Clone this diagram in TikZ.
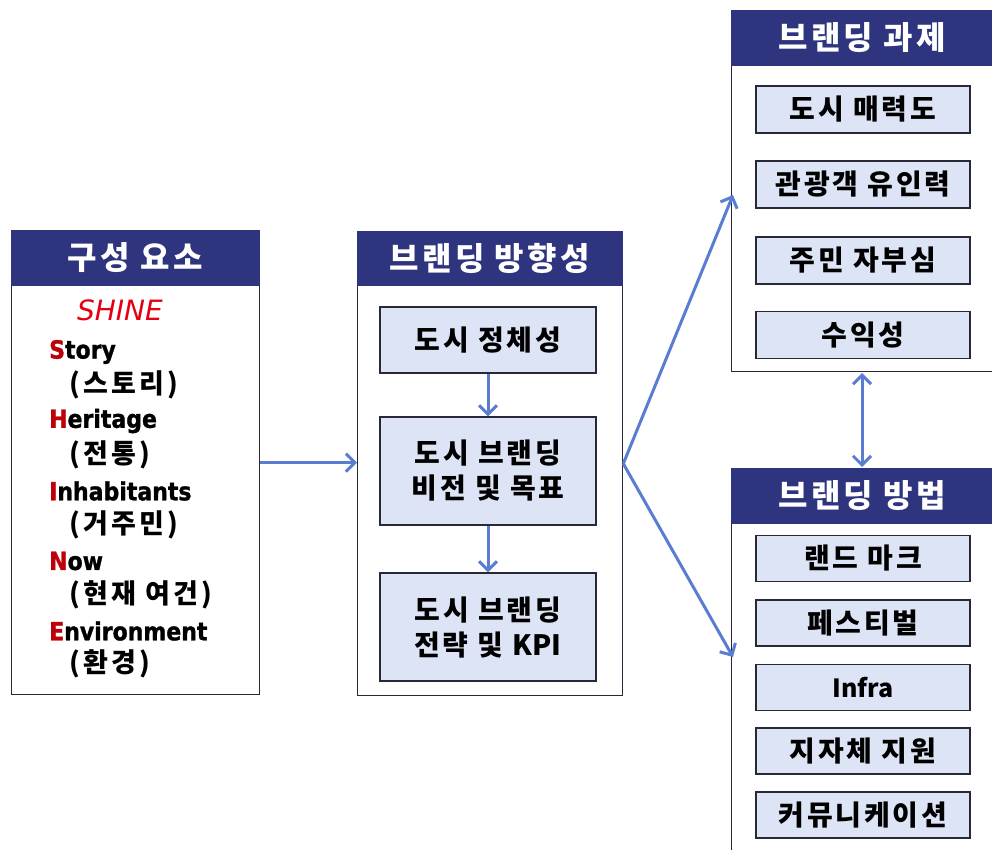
\documentclass[tikz,border=0pt]{standalone}
\usepackage{fontspec}
\setmainfont{Noto Sans CJK KR}[LetterSpace=10]
\newfontfamily\krplain{Noto Sans CJK KR}
\newfontfamily\kritem{Noto Sans CJK KR}[LetterSpace=12]
\newfontfamily\latfont{DejaVu Sans Bold}[FakeStretch=0.88,FakeBold=1.2]
\newfontfamily\shinefont{DejaVu Sans}
\usetikzlibrary{arrows.meta}
\definecolor{navy}{RGB}{46,52,126}
\definecolor{lav}{RGB}{221,228,246}
\definecolor{arrc}{RGB}{90,125,210}
\definecolor{dred}{RGB}{190,0,10}
\definecolor{shred}{RGB}{228,0,18}
\definecolor{edge}{RGB}{40,40,55}
\begin{document}
\begin{tikzpicture}[x=1pt,y=-1pt,
  outer/.style={draw=edge, line width=1.3pt, fill=white, inner sep=0pt, anchor=north west},
  hdr/.style={fill=navy, draw=navy, text=white, inner sep=0pt, anchor=north west,
    font=\bfseries\fontsize{32}{36}\selectfont},
  inbox/.style={fill=lav, draw=edge, line width=1.2pt, align=center, inner sep=0pt,
    font=\bfseries\fontsize{28}{35}\selectfont},
  item/.style={anchor=west, inner sep=0pt, font=\latfont\fontsize{25}{28}\selectfont},
  kitem/.style={anchor=west, inner sep=0pt, font=\kritem\bfseries\fontsize{27}{30}\selectfont},
  arr/.style={draw=arrc, line width=3pt, -{Straight Barb[length=9pt,width=18pt]}},
  darr/.style={draw=arrc, line width=3pt, {Straight Barb[length=9pt,width=18pt]}-{Straight Barb[length=9pt,width=18pt]}}
]
\useasboundingbox[fill=white] (0,0) rectangle (992,849);

% left box
\node[outer, minimum width=248pt, minimum height=464pt] (lbox) at (11,230) {};
\node[hdr, minimum width=248pt, minimum height=55pt] (lhdr) at (11,230) {구성 요소};
\node[inner sep=0pt, text=shred, font=\shinefont\itshape\fontsize{28}{32}\selectfont] (shine) at (120,310) {SHINE};
\node[item] (i1) at (49,352) {\textcolor{dred}{S}tory};
\node[kitem] (k1) at (69,385) {(스토리)};
\node[item] (i2) at (49,421) {\textcolor{dred}{H}eritage};
\node[kitem] (k2) at (69,455) {(전통)};
\node[item] (i3) at (49,491) {\textcolor{dred}{I}nhabitants};
\node[kitem] (k3) at (69,525) {(거주민)};
\node[item] (i4) at (49,561) {\textcolor{dred}{N}ow};
\node[kitem] (k4) at (69,595) {(현재 여건)};
\node[item] (i5) at (49,631) {\textcolor{dred}{E}nvironment};
\node[kitem] (k5) at (69,664) {(환경)};

% middle box
\node[outer, minimum width=265pt, minimum height=464pt] (mbox) at (357,231) {};
\node[hdr, minimum width=265pt, minimum height=54pt] (mhdr) at (357,231) {브랜딩 방향성};
\node[inbox, minimum width=216pt, minimum height=66pt] (b1) at (488,340) {도시 정체성};
\node[inbox, minimum width=216pt, minimum height=108pt] (b2) at (488,471) {도시 브랜딩\\비전 및 목표};
\node[inbox, minimum width=216pt, minimum height=108pt] (b3) at (488,627) {도시 브랜딩\\전략 및 {\krplain KPI}};

% right top box
\node[outer, minimum width=262pt, minimum height=361pt] (tbox) at (731,10) {};
\node[hdr, minimum width=262pt, minimum height=55pt] (thdr) at (731,10) {브랜딩 과제};
\node[inbox, minimum width=214pt, minimum height=47pt] (t1) at (863,109.5) {도시 매력도};
\node[inbox, minimum width=214pt, minimum height=47pt] (t2) at (863,184.5) {관광객 유인력};
\node[inbox, minimum width=214pt, minimum height=47pt] (t3) at (863,260.5) {주민 자부심};
\node[inbox, minimum width=214pt, minimum height=47pt] (t4) at (863,335) {수익성};

% right bottom box
\node[outer, minimum width=262pt, minimum height=400pt] (rbox) at (731,468) {};
\node[hdr, minimum width=262pt, minimum height=55pt] (rhdr) at (731,468) {브랜딩 방법};
\node[inbox, minimum width=214pt, minimum height=46pt] (r1) at (863,558.5) {랜드 마크};
\node[inbox, minimum width=214pt, minimum height=46pt] (r2) at (863,623) {페스티벌};
\node[inbox, minimum width=214pt, minimum height=46pt, font=\krplain\bfseries\fontsize{25}{30}\selectfont] (r3) at (863,687.5) {Infra};
\node[inbox, minimum width=214pt, minimum height=46pt] (r4) at (863,751) {지자체 지원};
\node[inbox, minimum width=214pt, minimum height=46pt] (r5) at (863,815) {커뮤니케이션};

% connectors
\coordinate (ta) at (733,195);
\coordinate (ba) at (733,657);
\coordinate (da) at (862,373);
\coordinate (db) at (862,467);
\draw[arr] (lbox.east) -- (lbox.east -| mbox.west);
\draw[arr] (b1.south) -- (b2.north);
\draw[arr] (b2.south) -- (b3.north);
\draw[arr] (mbox.east) -- (ta);
\draw[arr] (mbox.east) -- (ba);
\draw[darr] (da) -- (db);
\end{tikzpicture}
\end{document}
